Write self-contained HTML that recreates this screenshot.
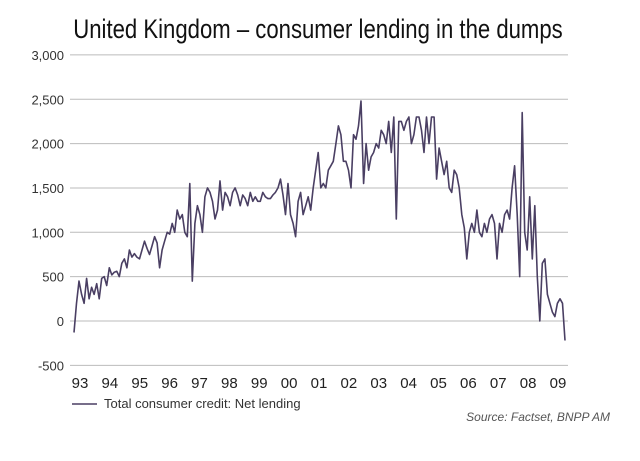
<!DOCTYPE html>
<html><head><meta charset="utf-8"><style>
body{margin:0;background:#fff;}
svg text{font-family:"Liberation Sans",sans-serif;}
</style></head><body>
<svg width="640" height="456" id="c">
<text x="318" y="38" text-anchor="middle" font-size="27" fill="#111" transform="translate(318,0) scale(0.82,1) translate(-318,0)">United Kingdom – consumer lending in the dumps</text>
<g id="grid"></g><g id="ylab"></g><g id="xlab"></g>
<path id="line" fill="none" stroke="#4a3f63" stroke-width="1.6" stroke-linejoin="round"/>
<line x1="72" y1="404" x2="97" y2="404" stroke="#4a3f63" stroke-width="1.6"/>
<text x="104" y="408" font-size="13" fill="#333">Total consumer credit: Net lending</text>
<text x="610" y="421" font-size="12" font-style="italic" fill="#555" text-anchor="end">Source: Factset, BNPP AM</text>
</svg>
<script>
const yTicks=[3000,2500,2000,1500,1000,500,0,-500];
const yTickLabels=["3,000","2,500","2,000","1,500","1,000","500","0","-500"];
const years=["93","94","95","96","97","98","99","00","01","02","03","04","05","06","07","08","09"];
const values=[
-130,200,450,300,200,480,250,380,300,420,250,480,
500,400,600,520,550,560,500,650,700,600,800,720,
760,720,700,800,900,820,750,850,950,880,600,800,
900,1000,980,1100,1000,1250,1150,1200,1000,950,1550,450,
1100,1300,1200,1000,1400,1500,1450,1350,1150,1250,1580,1250,
1450,1400,1300,1450,1500,1420,1300,1420,1380,1300,1450,1350,
1400,1350,1350,1450,1400,1380,1380,1420,1450,1500,1600,1420,
1200,1550,1200,1100,950,1350,1450,1200,1300,1400,1250,1500,
1700,1900,1500,1550,1500,1700,1750,1800,2000,2200,2100,1800,
1800,1700,1500,2100,2050,2200,2480,1550,2000,1700,1850,1900,
2000,1950,2150,2100,2000,2250,1900,2300,1150,2250,2250,2150,
2250,2300,2000,2100,2300,2300,2150,1900,2300,2000,2300,2300,
1600,1950,1800,1650,1800,1500,1450,1700,1650,1500,1200,1050,
700,1000,1100,1000,1250,1000,950,1100,1000,1150,1200,1100,
700,1100,1000,1200,1250,1150,1500,1750,1200,500,2350,1000,
800,1400,700,1300,500,0,650,700,300,200,100,50,
200,250,200,-220];
const NS="http://www.w3.org/2000/svg";
const y=v=>321-v*0.0887;
const x=i=>74+i*(565-74)/(values.length-1);
const xYear=k=>80+k*(558-80)/(years.length-1);
const grid=document.getElementById('grid'),yl=document.getElementById('ylab'),xl=document.getElementById('xlab');
yTicks.forEach((t,k)=>{
 const l=document.createElementNS(NS,'line');
 l.setAttribute('x1',70);l.setAttribute('x2',568);l.setAttribute('y1',y(t));l.setAttribute('y2',y(t));
 l.setAttribute('stroke','#bbb');l.setAttribute('stroke-width','1');
 
 
 grid.appendChild(l);
 const tx=document.createElementNS(NS,'text');
 tx.setAttribute('x',64);tx.setAttribute('y',y(t)+5);tx.setAttribute('text-anchor','end');
 tx.setAttribute('font-size','13');tx.setAttribute('fill','#333');tx.textContent=yTickLabels[k];
 
 
 yl.appendChild(tx);
});
years.forEach((yr,k)=>{
 const tx=document.createElementNS(NS,'text');
 tx.setAttribute('x',xYear(k));tx.setAttribute('y',388);tx.setAttribute('text-anchor','middle');
 tx.setAttribute('font-size','15');tx.setAttribute('fill','#222');tx.textContent=yr;
 
 
 xl.appendChild(tx);
});
document.getElementById('line').setAttribute('d',values.map((v,i)=>(i?'L':'M')+x(i).toFixed(1)+','+y(v).toFixed(1)).join(''));
</script>
</body></html>
